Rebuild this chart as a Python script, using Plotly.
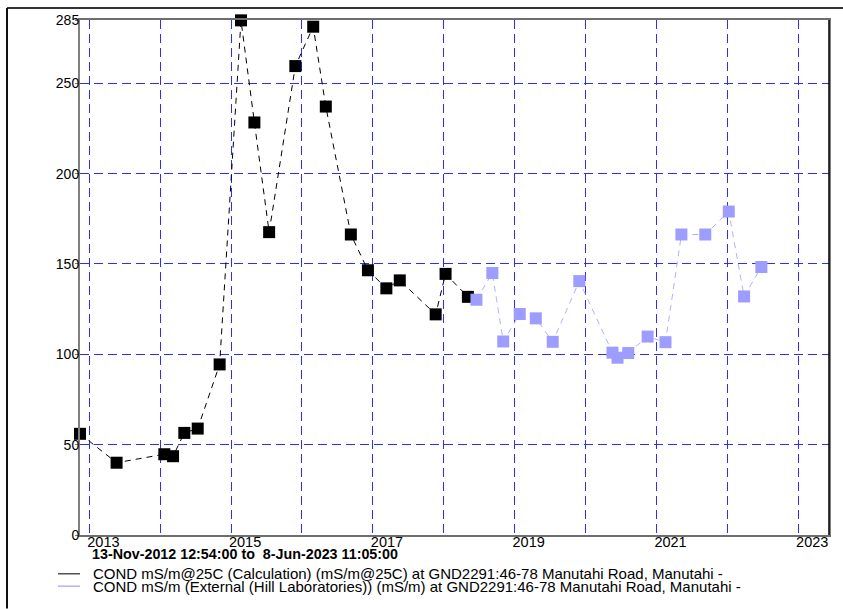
import plotly.graph_objects as go

# ---- data ----
calc_dates = ["2012-11-13 12:54", "2013-05-21", "2014-01-22", "2014-03-08", "2014-05-05",
              "2014-07-13", "2014-11-03", "2015-02-21", "2015-05-01", "2015-07-16",
              "2015-11-28", "2016-02-28", "2016-05-03", "2016-09-09", "2016-12-06",
              "2017-03-11", "2017-05-19", "2017-11-20", "2018-01-10", "2018-05-05"]
calc_values = [56, 40, 44.7, 43.6, 56.5, 58.9, 94.4, 284.8, 228.3, 167.6,
               259.5, 281.3, 237.1, 166.3, 146.5, 136.5, 140.9, 122.1, 144.5, 131.8]

lab_dates = ["2018-06-18", "2018-09-08", "2018-11-03", "2019-01-27", "2019-04-20",
             "2019-07-16", "2019-11-30", "2020-05-19", "2020-06-14", "2020-08-08",
             "2020-11-16", "2021-02-16", "2021-05-09", "2021-09-09", "2022-01-08",
             "2022-03-28", "2022-06-25"]
lab_values = [130.2, 145.0, 107.1, 122.3, 119.9, 106.9, 140.5, 100.9, 98.1, 100.7,
              109.8, 106.7, 166.3, 166.3, 179.0, 132.0, 148.3]

y_ticks = [0, 50, 100, 150, 200, 250, 285]
x_range = ["2012-11-13 12:54:00", "2023-06-08 11:05:00"]
range_text = "13-Nov-2012 12:54:00 to  8-Jun-2023 11:05:00"
legend_texts = [
    "COND mS/m@25C (Calculation) (mS/m@25C) at GND2291:46-78 Manutahi Road, Manutahi -",
    "COND mS/m (External (Hill Laboratories)) (mS/m) at GND2291:46-78 Manutahi Road, Manutahi -",
]

FONT = "Liberation Sans, Arial, sans-serif"
GRID = "rgb(45,45,255)"
PURPLE = "#9d9dff"

fig = go.Figure()
fig.add_trace(go.Scatter(
    x=calc_dates, y=calc_values, mode="lines+markers",
    line=dict(color="black", width=1, dash="6px,5px"),
    marker=dict(symbol="square", size=12, color="black"),
    cliponaxis=False, showlegend=False))
fig.add_trace(go.Scatter(
    x=lab_dates, y=lab_values, mode="lines+markers",
    line=dict(color="#b0b0ff", width=1, dash="6px,5px"),
    marker=dict(symbol="square", size=12, color=PURPLE),
    cliponaxis=False, showlegend=False))

W, H = 843, 609
L, R, T, B = 80, 14, 17, 74
pw, ph = W - L - R, H - T - B


def px(x):
    return (x - L) / pw


def py(y):
    return (H - B - y) / ph


annotations = [
    dict(text="<b>" + range_text + "</b>", x=px(90), y=py(554), xref="paper", yref="paper",
         xanchor="left", yanchor="middle", showarrow=False,
         font=dict(family=FONT, size=14.3, color="black")),
]
shapes = []
leg_colors = ["#555555", "#b0b0ff"]
leg_y = [574, 586.5]
for t, c, yy in zip(legend_texts, leg_colors, leg_y):
    annotations.append(dict(text=t, x=px(91), y=py(yy), xref="paper", yref="paper",
                            xanchor="left", yanchor="middle", showarrow=False,
                            font=dict(family=FONT, size=15, color="black")))
    shapes.append(dict(type="line", xref="paper", yref="paper",
                       x0=px(58), x1=px(80), y0=py(yy), y1=py(yy),
                       line=dict(color=c, width=1.5)))

# outer frame (top and left)
shapes.append(dict(type="line", xref="paper", yref="paper", x0=px(7), x1=px(843),
                   y0=py(5), y1=py(5), line=dict(color="#333333", width=2)))
shapes.append(dict(type="line", xref="paper", yref="paper", x0=px(7), x1=px(7),
                   y0=py(5), y1=py(609), line=dict(color="#111111", width=2)))
# right border of plot in black
shapes.append(dict(type="line", xref="paper", yref="paper", x0=1, x1=1,
                   y0=0, y1=1, line=dict(color="black", width=1.5)))

fig.update_layout(
    width=W, height=H, margin=dict(l=L, r=R, t=T, b=B),
    paper_bgcolor="white", plot_bgcolor="white",
    font=dict(family=FONT, size=14, color="black"),
    annotations=annotations, shapes=shapes,
    xaxis=dict(type="date", range=x_range, tick0="2013-01-01", dtick="M24",
               tickformat="%Y", showgrid=True, gridcolor=GRID, griddash="9px,5px", gridwidth=1,
               minor=dict(dtick="M12", tick0="2013-01-01", showgrid=True, gridcolor=GRID,
                          griddash="9px,5px", gridwidth=1),
               showline=True, linecolor="#6e6e6e", linewidth=2, mirror=True,
               ticks="", ticklabelshift=14, ticklabelstandoff=-7,
               tickfont=dict(family=FONT, size=14.5, color="black"), zeroline=False),
    yaxis=dict(range=[0, 285], tickvals=y_ticks, showgrid=True, gridcolor=GRID,
               griddash="9px,5px", gridwidth=1,
               showline=True, linecolor="#808080", linewidth=2, mirror=True,
               ticks="outside", ticklen=3, tickcolor="#808080", ticklabelstandoff=-7,
               tickfont=dict(family=FONT, size=14, color="black"), zeroline=False),
)

fig.write_html("out.html")
